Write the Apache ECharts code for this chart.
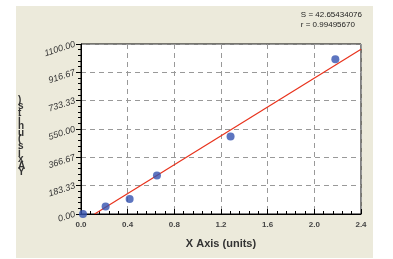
<!DOCTYPE html>
<html><head><meta charset="utf-8">
<script src="https://cdn.jsdelivr.net/npm/echarts@6/dist/echarts.min.js"></script>
<style>html,body{margin:0;padding:0;background:#fff}#c{width:393px;height:259px}</style>
</head><body><div id="c"></div>
<script>
var pointX = [0.017, 0.211, 0.417, 0.651, 1.282, 2.18];
var pointY = [0, 49, 97, 249, 501, 1001];
var fitX = [0.117, 2.4];
var fitY = [0, 1066];
var yTicks = [0, 183.33, 366.67, 550.00, 733.33, 916.67, 1100.00];
var xTicks = [0.0, 0.4, 0.8, 1.2, 1.6, 2.0, 2.4];
var xTitle = 'X Axis (units)';
var yTitle = 'Y Axis (units)';
var statS = 'S = 42.65434076';
var statR = 'r = 0.99495670';

var chart = echarts.init(document.getElementById('c'), null, {renderer:'canvas'});
var stacked = yTitle.replace(/ /g,'').split('').reverse().join('\n');
chart.setOption({
  animation:false,
  backgroundColor:'#fff',
  graphic:[
    {type:'rect', z:-10, shape:{x:16,y:6,width:357,height:252}, style:{fill:'#ECEADB'}},
    {type:'text', left:18, top:95, style:{text:stacked, font:'bold 10px Arial', fill:'#333', lineHeight:6.6, align:'left'}},
    {type:'text', right:31, top:10, style:{text:statS + '\n' + statR, font:'8px Arial', fill:'#222', align:'right', lineHeight:10}}
  ],
  grid:{left:81, right:32, top:44, bottom:45, show:true, backgroundColor:'#fff', borderColor:'#000', borderWidth:1},
  xAxis:{
    type:'value', min:0, max:2.4, interval:0.4,
    name:xTitle, nameLocation:'middle', nameGap:24,
    nameTextStyle:{fontFamily:'Arial', fontWeight:'bold', fontSize:11, color:'#333'},
    axisLine:{onZero:false, lineStyle:{color:'#000'}},
    axisTick:{inside:true, length:5, lineStyle:{color:'#000'}},
    minorTick:{show:true, splitNumber:5, length:3, lineStyle:{color:'#000'}},
    axisLabel:{fontFamily:'Arial', fontWeight:'bold', fontSize:8, color:'#444', margin:7,
      formatter:function(v){return v.toFixed(1);}},
    splitLine:{show:true, lineStyle:{color:'#999', type:[5,4]}}
  },
  yAxis:{
    type:'value', min:0, max:1100, interval:1100/6,
    axisLine:{onZero:false, lineStyle:{color:'#000'}},
    axisTick:{length:5, lineStyle:{color:'#000'}},
    minorTick:{show:true, splitNumber:5, length:3, lineStyle:{color:'#000'}},
    axisLabel:{fontFamily:'Arial', fontStyle:'italic', fontSize:9, color:'#333', rotate:18, margin:6,
      formatter:function(v){var i=Math.round(v/(1100/6)); return yTicks[i].toFixed(2);}},
    splitLine:{show:true, lineStyle:{color:'#999', type:[5,4]}}
  },
  series:[
    {type:'line', data:fitX.map(function(x,i){return [x,fitY[i]];}), symbol:'none',
     lineStyle:{color:'#E8321C', width:1.2}, z:2},
    {type:'scatter', data:pointX.map(function(x,i){return [x,pointY[i]];}), symbolSize:8,
     itemStyle:{color:'#3453B0'}, z:3}
  ]
});
</script></body></html>
